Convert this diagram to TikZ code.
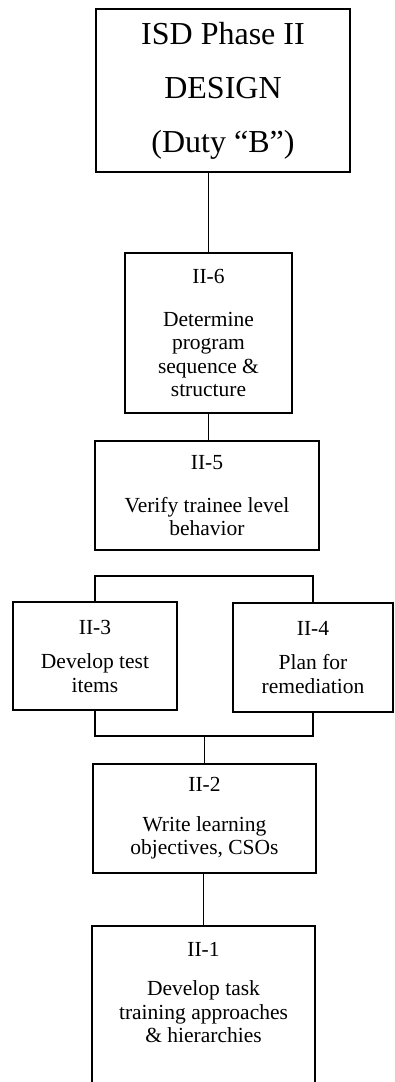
\documentclass[tikz,border=0pt]{standalone}
\usepackage{fontspec}
\setmainfont{Liberation Serif}
\begin{document}
\begin{tikzpicture}[x=1pt,y=-1pt,
  box/.style={draw=black, line width=1.9pt, inner sep=0pt, align=center,
    font=\fontsize{21.5}{23.5}\selectfont, fill=white},
  bigbox/.style={box, font=\fontsize{32}{54}\selectfont},
  txt/.style={inner sep=0pt, align=center, font=\fontsize{21.5}{23.5}\selectfont},
  conn/.style={draw=black, line width=1.6pt}]
\useasboundingbox (0,0) rectangle (395,1082);
\clip (0,0) rectangle (395,1082);
\fill[white] (0,0) rectangle (395,1082);

\node[bigbox, minimum width=254pt, minimum height=163pt] (top) at (223,90.5)
  {ISD Phase II\\DESIGN\\(Duty “B”)};
\node[box, minimum width=167pt, minimum height=160pt] (b6) at (208.5,333)
  {II-6\\[19.5pt]Determine\\program\\sequence \&\\structure};
\node[box, minimum width=224pt, minimum height=109pt] (b5) at (207,495.5)
  {II-5\\[19.5pt]Verify trainee level\\behavior};
\node[box, minimum width=164pt, minimum height=108pt] (b3) at (95,656)
  {II-3\\[11pt]Develop test\\items};
\node[box, minimum width=160pt, minimum height=109pt] (b4) at (313,657.5)
  {II-4\\[11pt]Plan for\\remediation};
\node[box, minimum width=223pt, minimum height=109pt] (b2) at (204.5,818.5)
  {II-2\\[16pt]Write learning\\objectives, CSOs};
\node[box, anchor=north, minimum width=223pt, minimum height=190pt] (b1) at (203.5,925) {};
\node[txt, anchor=north] (t1) at ([yshift=-17pt]b1.north)
  {II-1\\[16pt]Develop task\\training approaches\\\& hierarchies};

\coordinate (brT) at (0,576);
\coordinate (brB) at (0,736);
\draw[conn] (b6.north) -- (b6.north |- top.south);
\draw[conn] (b6.south) -- (b6.south |- b5.north);
\draw[conn] (b3.north) |- (b4.north |- brT) -- (b4.north);
\draw[conn] (b3.south) |- (b4.south |- brB) -- (b4.south);
\draw[conn] (b2.north) -- (b2.north |- brB);
\draw[conn] (b1.north) -- (b1.north |- b2.south);
\end{tikzpicture}
\end{document}
